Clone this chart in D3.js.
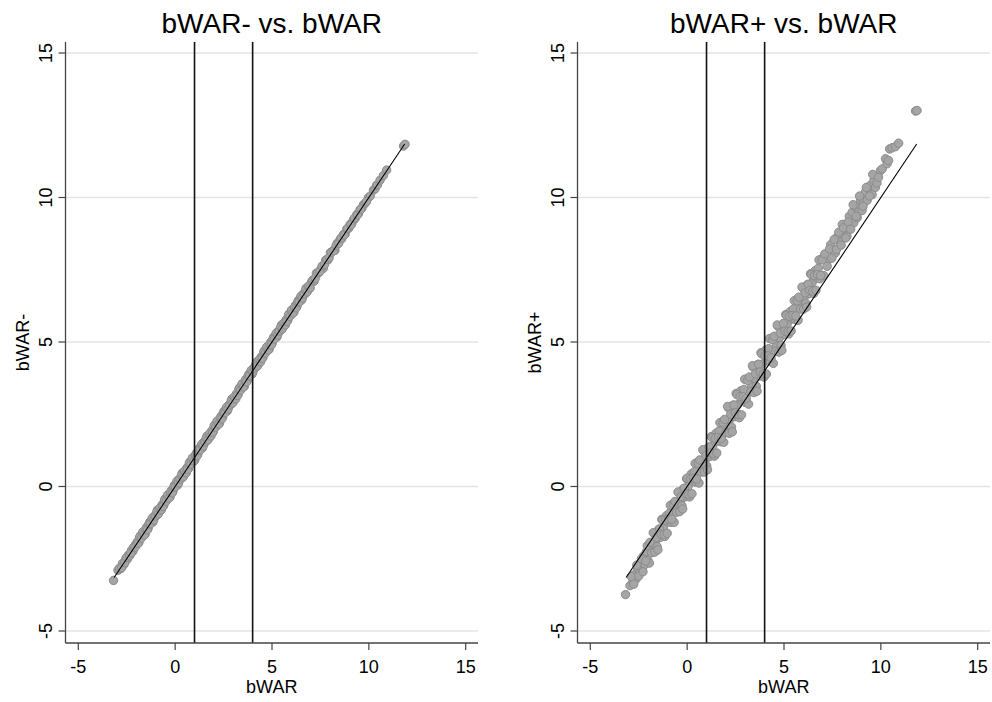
<!DOCTYPE html>
<html>
<head>
<meta charset="utf-8">
<script src="https://cdn.jsdelivr.net/npm/d3@7"></script>
<style>
  body { margin: 0; background: #fff; }
  svg { display: block; }
  text { font-family: "Liberation Sans", Arial, sans-serif; fill: #000; }
</style>
</head>
<body>
<svg id="chart" width="992" height="702"></svg>
<script>
// axis ticks and the two cutoff lines
const ticks = [-5, 0, 5, 10, 15];
const cutoffs = [1, 4];
// ends of the 45 degree reference line
const fitRange = [-3.15, 11.85];

// one row per player season
const bwar = [-3.18, -2.95, -2.8, -2.72, -2.64, -2.55, -2.47, -2.4, -2.33, -2.25, -2.18, -2.1, -2.03,
  -1.95, -1.87, -1.79, -1.71, -1.63, -1.55, -1.47, -1.39, -1.31, -1.23, -1.15, -1.07, -0.99, -0.91, -0.83, -0.75,
  -0.67, -0.59, -0.51, -0.43, -0.35, -0.27, -0.19, -0.11, -0.03, 0.05, 0.13, 0.21, 0.29, 0.37, 0.45, 0.53,
  0.61, 0.69, 0.77, 0.85, 0.93, 1.01, 1.09, 1.17, 1.25, 1.33, 1.41, 1.49, 1.57, 1.65, 1.73, 1.81,
  1.89, 1.97, 2.05, 2.13, 2.21, 2.29, 2.37, 2.45, 2.53, 2.61, 2.69, 2.77, 2.85, 2.93, 3.01, 3.09,
  3.17, 3.25, 3.33, 3.41, 3.49, 3.57, 3.65, 3.73, 3.81, 3.89, 3.97, 4.05, 4.13, 4.21, 4.29, 4.37,
  4.45, 4.53, 4.61, 4.69, 4.77, 4.85, 4.93, 5.01, 5.09, 5.17, 5.25, 5.33, 5.41, 5.49, 5.57, 5.65,
  5.73, 5.81, 5.89, 5.97, 6.05, 6.13, 6.21, 6.29, 6.37, 6.45, 6.53, 6.61, 6.69, 6.77, 6.85, 6.93,
  7.05, 7.17, 7.29, 7.41, 7.53, 7.65, 7.77, 7.89, 8.01, 8.13, 8.25, 8.37,
  8.52, 8.6, 8.69, 8.78, 8.86, 8.95, 9.03, 9.12, 9.2, 9.29, 9.38, 9.46, 9.55, 9.64, 9.72, 9.8,
  9.98, 10.07, 10.24, 10.32, 10.4, 10.45, 10.58, 10.75, 10.92, 11.79, 11.87,
  -2.88, -2.76, -2.6, -2.5, -2.36, -2.28, -2.14, -2.06,
  -1.91, -1.83, -1.75, -1.67, -1.59, -1.51, -1.43, -1.35, -1.27, -1.19, -1.11, -1.03, -0.95, -0.87, -0.79, -0.71,
  -0.63, -0.55, -0.47, -0.39, -0.31, -0.23, -0.15, -0.07, 0.01, 0.09, 0.17, 0.25, 0.33, 0.41, 0.49, 0.57,
  0.65, 0.73, 0.81, 0.89, 0.97, 1.05, 1.13, 1.21, 1.29, 1.37, 1.45, 1.53, 1.61, 1.69, 1.77, 1.85,
  1.93, 2.01, 2.09, 2.17, 2.25, 2.33, 2.41, 2.49, 2.57, 2.65, 2.73, 2.81, 2.89, 2.97, 3.05, 3.13,
  3.21, 3.29, 3.37, 3.45, 3.53, 3.61, 3.69, 3.77, 3.85, 3.93, 4.01, 4.09, 4.17, 4.25, 4.33, 4.41,
  4.49, 4.57, 4.65, 4.73, 4.81, 4.89, 4.97, 5.05, 5.13, 5.21, 5.29, 5.37, 5.45, 5.53, 5.61, 5.69,
  5.77, 5.85, 5.93, 6.01, 6.09, 6.17, 6.25, 6.33, 6.41, 6.49, 6.57, 6.65, 6.73, 6.81, 6.89, 6.97,
  7.11, 7.23, 7.35, 7.47, 7.59, 7.71, 7.83, 7.95, 8.07, 8.19, 8.31, 8.44, 8.57, 8.73, 8.9, 9.08,
  9.25, 9.42, 9.58, 9.88];

const bwarMinus = [-3.25, -2.9, -2.84, -2.66, -2.7, -2.5, -2.52, -2.36, -2.38, -2.2, -2.24, -2.08, -2.0,
  -1.91, -1.94, -1.70, -1.73, -1.63, -1.65, -1.41, -1.44, -1.23, -1.21, -1.23, -1.02, -1.02, -0.81, -0.89, -0.72,
  -0.63, -0.66, -0.42, -0.45, -0.35, -0.37, -0.13, -0.16, 0.05, 0.07, 0.05, 0.26, 0.26, 0.47, 0.39, 0.56,
  0.65, 0.62, 0.86, 0.83, 0.93, 0.91, 1.15, 1.12, 1.33, 1.35, 1.33, 1.54, 1.54, 1.75, 1.67, 1.84,
  1.93, 1.90, 2.14, 2.11, 2.21, 2.19, 2.43, 2.40, 2.61, 2.63, 2.61, 2.82, 2.82, 3.03, 2.95, 3.12,
  3.21, 3.18, 3.42, 3.39, 3.49, 3.47, 3.71, 3.68, 3.89, 3.91, 3.89, 4.10, 4.10, 4.31, 4.23, 4.40,
  4.49, 4.46, 4.70, 4.67, 4.77, 4.75, 4.99, 4.96, 5.17, 5.19, 5.17, 5.38, 5.38, 5.59, 5.51, 5.68,
  5.77, 5.74, 5.98, 5.95, 6.05, 6.03, 6.27, 6.24, 6.45, 6.47, 6.45, 6.66, 6.66, 6.87, 6.79, 6.96,
  7.09, 7.10, 7.38, 7.39, 7.53, 7.55, 7.83, 7.84, 8.09, 8.15, 8.17, 8.42,
  8.55, 8.57, 8.72, 8.74, 8.9, 8.93, 9.07, 9.1, 9.22, 9.27, 9.41, 9.44, 9.58, 9.63, 9.75, 9.79,
  10.0, 10.05, 10.26, 10.3, 10.42, 10.44, 10.6, 10.76, 10.95, 11.78, 11.84,
  -2.83, -2.8, -2.63, -2.45, -2.4, -2.3, -2.1, -2.1,
  -1.97, -1.75, -1.79, -1.57, -1.68, -1.48, -1.50, -1.29, -1.29, -1.10, -1.16, -1.02, -0.88, -0.95, -0.75, -0.81,
  -0.69, -0.47, -0.51, -0.29, -0.40, -0.20, -0.22, -0.01, -0.01, 0.18, 0.12, 0.26, 0.40, 0.33, 0.53, 0.47,
  0.59, 0.81, 0.77, 0.99, 0.88, 1.08, 1.06, 1.27, 1.27, 1.46, 1.40, 1.54, 1.68, 1.61, 1.81, 1.75,
  1.87, 2.09, 2.05, 2.27, 2.16, 2.36, 2.34, 2.55, 2.55, 2.74, 2.68, 2.82, 2.96, 2.89, 3.09, 3.03,
  3.15, 3.37, 3.33, 3.55, 3.44, 3.64, 3.62, 3.83, 3.83, 4.02, 3.96, 4.10, 4.24, 4.17, 4.37, 4.31,
  4.43, 4.65, 4.61, 4.83, 4.72, 4.92, 4.90, 5.11, 5.11, 5.30, 5.24, 5.38, 5.52, 5.45, 5.65, 5.59,
  5.71, 5.93, 5.89, 6.11, 6.00, 6.20, 6.18, 6.39, 6.39, 6.58, 6.52, 6.66, 6.80, 6.73, 6.93, 6.87,
  7.15, 7.2, 7.39, 7.44, 7.63, 7.68, 7.86, 7.92, 8.1, 8.16, 8.34, 8.41, 8.6, 8.7, 8.94, 9.05,
  9.28, 9.4, 9.6, 9.86];

const bwarPlus = [-3.74, -3.43, -3.3, -3.05, -3.2, -2.85, -3.0, -2.62, -2.85, -2.4, -2.7, -2.25, -2.55,
  -2.65, -2.02, -2.16, -1.62, -1.89, -2.08, -1.49, -1.76, -1.14, -1.41, -1.73, -1.01, -1.23, -0.92, -1.24, -0.61,
  -1.24, -0.61, -0.75, -0.21, -0.49, -0.67, -0.08, -0.36, 0.27, 0.01, -0.36, 0.43, 0.17, 0.51, 0.15, 0.83,
  0.12, 0.81, 0.65, 1.24, 0.92, 0.71, 1.35, 1.04, 1.73, 1.41, 1.05, 1.84, 1.58, 1.92, 1.55, 2.24,
  1.53, 2.22, 2.04, 2.72, 2.33, 2.06, 2.81, 2.42, 3.22, 2.83, 2.38, 3.31, 2.98, 3.36, 2.91, 3.72,
  2.85, 3.66, 3.44, 4.13, 3.74, 3.47, 4.22, 3.82, 4.63, 4.24, 3.79, 4.72, 4.38, 4.77, 4.32, 5.13,
  4.26, 5.06, 4.85, 5.54, 5.15, 4.88, 5.62, 5.26, 5.95, 5.64, 5.28, 6.06, 5.80, 6.14, 5.78, 6.47,
  5.75, 6.44, 6.28, 6.87, 6.56, 6.34, 6.98, 6.67, 7.36, 7.05, 6.68, 7.47, 7.21, 7.55, 7.19, 7.87,
  7.30, 7.91, 7.84, 8.37, 8.18, 8.08, 8.65, 8.46, 9.07, 8.88, 8.66, 9.35,
  9.49, 9.12, 9.66, 9.3, 9.5, 9.9, 9.55, 9.85, 10.18, 9.9, 10.3, 10.42, 10.1, 10.59, 10.35, 10.5,
  10.93, 10.99, 11.34, 11.17, 11.28, 11.68, 11.72, 11.76, 11.88, 12.99, 13.01,
  -3.12, -3.38, -2.72, -3.1, -2.5, -2.95, -2.58, -2.05,
  -1.93, -2.29, -1.60, -2.27, -1.76, -2.19, -1.47, -1.65, -1.16, -1.66, -1.16, -1.62, -1.12, -0.65, -1.13, -0.63,
  -0.52, -0.89, -0.19, -0.87, -0.35, -0.78, -0.06, -0.24, 0.29, -0.28, 0.26, -0.25, 0.29, 0.80, 0.26, 0.80,
  0.92, 0.50, 1.27, 0.50, 1.07, 0.58, 1.37, 1.16, 1.69, 1.13, 1.67, 1.16, 1.70, 2.21, 1.67, 2.21,
  2.32, 1.87, 2.77, 1.84, 2.50, 1.89, 2.82, 2.55, 3.18, 2.49, 3.11, 2.48, 3.11, 3.71, 3.05, 3.67,
  3.79, 3.28, 4.18, 3.25, 3.90, 3.30, 4.23, 3.96, 4.59, 3.89, 4.52, 3.89, 4.52, 5.12, 4.45, 5.08,
  5.20, 4.69, 5.59, 4.65, 5.31, 4.71, 5.64, 5.38, 5.92, 5.36, 5.89, 5.38, 5.92, 6.43, 5.90, 6.43,
  6.55, 6.14, 6.90, 6.14, 6.70, 6.21, 7.00, 6.79, 7.33, 6.76, 7.30, 6.79, 7.33, 7.84, 7.30, 7.84,
  8.05, 7.62, 8.22, 7.9, 8.55, 8.2, 8.8, 8.35, 8.95, 8.6, 9.15, 8.9, 9.75, 9.35, 10.05, 9.7,
  10.35, 10.05, 10.8, 10.7];

const panels = [
  { title: 'bWAR- vs. bWAR', ylabel: 'bWAR-', values: bwarMinus, left: 65.5 },
  { title: 'bWAR+ vs. bWAR', ylabel: 'bWAR+', values: bwarPlus, left: 577.5 }
];

const svg = d3.select('#chart');
const plotTop = 42, plotBottom = 643, plotW = 412.5;
const y = d3.scaleLinear().domain([-5, 15]).range([631, 53]);

panels.forEach(p => {
  const x = d3.scaleLinear().domain([-5, 15]).range([p.left + 12.8, p.left + 400.2]);
  const right = p.left + plotW;
  const g = svg.append('g');

  // gridlines
  g.selectAll('.grid').data(ticks).join('line')
    .attr('x1', p.left).attr('x2', right)
    .attr('y1', d => y(d)).attr('y2', d => y(d))
    .attr('stroke', '#e4e4e4').attr('stroke-width', 1.4);

  // scatter
  const pts = bwar.map((d, i) => [d, p.values[i]]);
  g.selectAll('circle').data(pts).join('circle')
    .attr('cx', d => x(d[0])).attr('cy', d => y(d[1]))
    .attr('r', 4.2)
    .attr('fill', '#a5a5a5').attr('stroke', '#8c8c8c').attr('stroke-width', 1);

  // 45 degree line
  g.append('path')
    .datum(fitRange)
    .attr('d', d3.line().x(d => x(d)).y(d => y(d)))
    .attr('stroke', '#000').attr('stroke-width', 1.1).attr('fill', 'none');

  // cutoff lines
  g.selectAll('.cut').data(cutoffs).join('line')
    .attr('x1', d => x(d)).attr('x2', d => x(d))
    .attr('y1', plotTop).attr('y2', plotBottom)
    .attr('stroke', '#111').attr('stroke-width', 1.6);

  // axes
  g.append('line').attr('x1', p.left).attr('x2', p.left).attr('y1', plotTop).attr('y2', plotBottom)
    .attr('stroke', '#444').attr('stroke-width', 1.3);
  g.append('line').attr('x1', p.left).attr('x2', right).attr('y1', plotBottom).attr('y2', plotBottom)
    .attr('stroke', '#444').attr('stroke-width', 1.3);

  g.selectAll('.yt').data(ticks).join('line')
    .attr('x1', p.left - 7).attr('x2', p.left)
    .attr('y1', d => y(d)).attr('y2', d => y(d))
    .attr('stroke', '#444').attr('stroke-width', 1.2);
  g.selectAll('.xt').data(ticks).join('line')
    .attr('x1', d => x(d)).attr('x2', d => x(d))
    .attr('y1', plotBottom).attr('y2', plotBottom + 7)
    .attr('stroke', '#444').attr('stroke-width', 1.2);

  g.selectAll('.ytl').data(ticks).join('text')
    .attr('transform', d => `translate(${p.left - 14},${y(d)}) rotate(-90)`)
    .attr('text-anchor', 'middle').attr('font-size', 18)
    .text(d => d);
  g.selectAll('.xtl').data(ticks).join('text')
    .attr('x', d => x(d)).attr('y', 673)
    .attr('text-anchor', 'middle').attr('font-size', 18)
    .text(d => d);

  g.append('text')
    .attr('transform', `translate(${p.left - 37},${(plotTop + plotBottom) / 2}) rotate(-90)`)
    .attr('text-anchor', 'middle').attr('font-size', 18)
    .text(p.ylabel);
  g.append('text')
    .attr('x', (p.left + right) / 2).attr('y', 693)
    .attr('text-anchor', 'middle').attr('font-size', 18)
    .text('bWAR');
  g.append('text')
    .attr('x', (p.left + right) / 2).attr('y', 33)
    .attr('text-anchor', 'middle').attr('font-size', 28)
    .text(p.title);
});
</script>
</body>
</html>
